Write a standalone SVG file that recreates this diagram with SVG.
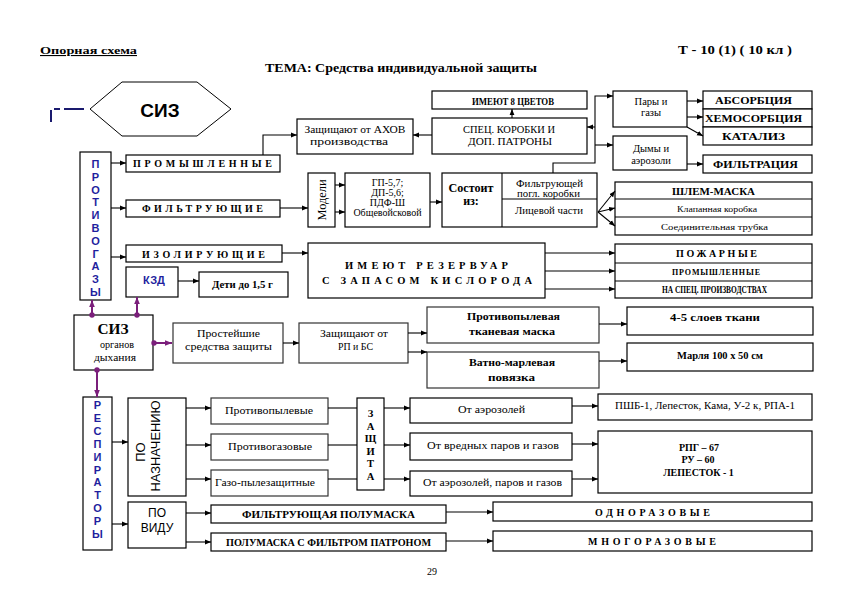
<svg xmlns="http://www.w3.org/2000/svg" width="841" height="595" viewBox="0 0 841 595" font-size="10">
<style>
.t{font-family:"Liberation Serif","Times New Roman",serif;fill:#000;text-anchor:middle}
.b{font-weight:bold}
.s{font-family:"Liberation Sans",Arial,sans-serif}
.blue{fill:#1f1f9e;font-family:"Liberation Sans",Arial,sans-serif;font-weight:bold;font-size:11px;text-anchor:middle}
.box{fill:#fff;stroke:#000;stroke-width:1.2}
.gbox{fill:#fff;stroke:#333;stroke-width:1.2}
.ln{fill:none;stroke:#000;stroke-width:1.1}
.c path{fill:none;stroke:#000;stroke-width:1.1}
.c path.p{stroke:#7b1f7b;stroke-width:2}
.c path.n{stroke:#1a1a6e;stroke-width:2}
</style>
<defs>
<marker id="ar" viewBox="0 0 10 10" refX="10" refY="5" markerWidth="6" markerHeight="6" orient="auto" markerUnits="userSpaceOnUse"><path d="M0,1 L10,5 L0,9 z" fill="#000"/></marker>
<marker id="arp" viewBox="0 0 10 10" refX="10" refY="5" markerWidth="7" markerHeight="7" orient="auto" markerUnits="userSpaceOnUse"><path d="M0,1 L10,5 L0,9 z" fill="#7b1f7b"/></marker>
<marker id="dot" viewBox="0 0 10 10" refX="5" refY="5" markerWidth="6" markerHeight="6" markerUnits="userSpaceOnUse"><circle cx="5" cy="5" r="4.5" fill="#7b1f7b"/></marker>
</defs>
<rect width="841" height="595" fill="#fff"/>

<g id="header">
<text class="t b" x="88.5" y="54" font-size="11" textLength="97" lengthAdjust="spacingAndGlyphs" text-decoration="underline">Опорная схема</text>
<text class="t b" x="401" y="72" font-size="13" textLength="272" lengthAdjust="spacingAndGlyphs">ТЕМА:  Средства индивидуальной защиты</text>
<text class="t b" x="735" y="54" font-size="13" textLength="114" lengthAdjust="spacingAndGlyphs">Т - 10 (1) ( 10 кл )</text>
<text class="t" x="432" y="575" font-size="10">29</text>
</g>

<g id="n-siz">
<polygon points="90,109 122,82 197,82 231,109 197,136 122,136" fill="#fff" stroke="#000" stroke-width="1"/>
<text class="t s b" x="160" y="117" font-size="19">СИЗ</text>
</g>

<g id="n-ahov">
<rect class="box" x="297" y="119" width="116" height="35"/>
<text class="t" x="355" y="133" font-size="10.5" textLength="101" lengthAdjust="spacingAndGlyphs">Защищают от АХОВ</text>
<text class="t" x="349" y="145" font-size="10.5" textLength="78" lengthAdjust="spacingAndGlyphs">производства</text>
</g>

<g id="n-8colors">
<rect class="box" x="432" y="91" width="155" height="18"/>
<text class="t b" x="513" y="104.5" font-size="10" textLength="82" lengthAdjust="spacingAndGlyphs">ИМЕЮТ 8 ЦВЕТОВ</text>
</g>

<g id="n-spec">
<rect class="box" x="432" y="118" width="155" height="36"/>
<text class="t" x="509" y="133" font-size="11" textLength="92" lengthAdjust="spacingAndGlyphs">СПЕЦ. КОРОБКИ И</text>
<text class="t" x="510" y="145" font-size="11" textLength="84" lengthAdjust="spacingAndGlyphs">ДОП. ПАТРОНЫ</text>
</g>

<g id="n-pary">
<rect class="box" x="613" y="91" width="74" height="36"/>
<text class="t" x="651" y="105" font-size="10.5">Пары и</text>
<text class="t" x="651" y="116" font-size="10.5">газы</text>
</g>

<g id="n-dymy">
<rect class="box" x="613" y="136" width="74" height="34"/>
<text class="t" x="651" y="152" font-size="10.5">Дымы и</text>
<text class="t" x="651" y="164" font-size="10.5">аэрозоли</text>
</g>

<g id="n-absorb">
<rect class="box" x="703" y="91" width="109" height="18"/>
<text class="t b" x="753.5" y="104" font-size="10.5" textLength="77" lengthAdjust="spacingAndGlyphs">АБСОРБЦИЯ</text>
</g>
<g id="n-chemo">
<rect class="box" x="703" y="109" width="109" height="18"/>
<text class="t b" x="753.5" y="122" font-size="10.5" textLength="97" lengthAdjust="spacingAndGlyphs">ХЕМОСОРБЦИЯ</text>
</g>
<g id="n-kataliz">
<rect class="box" x="703" y="127" width="109" height="18"/>
<text class="t b" x="753.5" y="140" font-size="10.5" textLength="63" lengthAdjust="spacingAndGlyphs">КАТАЛИЗ</text>
</g>
<g id="n-filtr">
<rect class="box" x="703" y="155" width="109" height="18"/>
<text class="t b" x="755.5" y="168" font-size="10.5" textLength="85" lengthAdjust="spacingAndGlyphs">ФИЛЬТРАЦИЯ</text>
</g>

<g id="n-protivogazy">
<rect class="box" x="80" y="152" width="31" height="148"/>
<text class="blue" x="95.5" y="168">П</text>
<text class="blue" x="95.5" y="180.8">Р</text>
<text class="blue" x="95.5" y="193.6">О</text>
<text class="blue" x="95.5" y="206.4">Т</text>
<text class="blue" x="95.5" y="219.2">И</text>
<text class="blue" x="95.5" y="232">В</text>
<text class="blue" x="95.5" y="244.8">О</text>
<text class="blue" x="95.5" y="257.6">Г</text>
<text class="blue" x="95.5" y="270.4">А</text>
<text class="blue" x="95.5" y="283.2">З</text>
<text class="blue" x="95.5" y="296">Ы</text>
</g>

<g id="n-prom">
<rect class="box" x="126" y="155" width="154" height="17"/>
<text class="t b" x="202.5" y="167" font-size="10" textLength="139" lengthAdjust="spacing">ПРОМЫШЛЕННЫЕ</text>
</g>
<g id="n-filtruyuschie">
<rect class="box" x="126" y="200" width="154" height="17"/>
<text class="t b" x="202.5" y="212" font-size="10" textLength="121" lengthAdjust="spacing">ФИЛЬТРУЮЩИЕ</text>
</g>
<g id="n-izol">
<rect class="box" x="126" y="245" width="156" height="17"/>
<text class="t b" x="203.5" y="258" font-size="10" textLength="123" lengthAdjust="spacing">ИЗОЛИРУЮЩИЕ</text>
</g>
<g id="n-kzd">
<rect class="box" x="126" y="267" width="52" height="30"/>
<text class="blue" x="154" y="284">КЗД</text>
</g>
<g id="n-deti">
<rect class="box" x="199" y="272" width="89" height="25"/>
<text class="t b" x="242.5" y="288" font-size="10" textLength="61" lengthAdjust="spacingAndGlyphs">Дети до 1,5 г</text>
</g>

<g id="n-modeli">
<rect class="box" x="308" y="173" width="27" height="54"/>
<text class="t" transform="translate(326,200) rotate(-90)" font-size="11.5" textLength="41" lengthAdjust="spacingAndGlyphs">Модели</text>
</g>
<g id="n-gp">
<rect class="box" x="345" y="173" width="85" height="54"/>
<text class="t" x="387.5" y="186" font-size="10">ГП-5,7;</text>
<text class="t" x="387.5" y="196" font-size="10">ДП-5,6;</text>
<text class="t" x="387.5" y="206" font-size="10">ПДФ-Ш</text>
<text class="t" x="387.5" y="216" font-size="10">Общевойсковой</text>
</g>
<g id="n-sostoit">
<rect class="box" x="442" y="173" width="155" height="54"/>
<path class="ln" d="M502,173 V227 M502,199 H597"/>
<text class="t b" x="471" y="192" font-size="12" textLength="45" lengthAdjust="spacingAndGlyphs">Состоит</text>
<text class="t b" x="471" y="205" font-size="12">из:</text>
<text class="t" x="549.5" y="187" font-size="10" textLength="67" lengthAdjust="spacingAndGlyphs">Фильтрующей</text>
<text class="t" x="548.5" y="197" font-size="10" textLength="63" lengthAdjust="spacingAndGlyphs">погл. коробки</text>
<text class="t" x="549" y="214" font-size="10" textLength="68" lengthAdjust="spacingAndGlyphs">Лицевой части</text>
</g>

<g id="n-rezervuar">
<rect class="box" x="308" y="243" width="237" height="55"/>
<text class="t b" x="426.5" y="269" font-size="10.5" textLength="163" lengthAdjust="spacing">ИМЕЮТ  РЕЗЕРВУАР</text>
<text class="t b" x="427" y="284" font-size="10.5" textLength="210" lengthAdjust="spacing">С  ЗАПАСОМ  КИСЛОРОДА</text>
</g>

<g id="n-shlem">
<rect class="box" x="615" y="182" width="197" height="53"/>
<path class="ln" d="M615,199 H812 M615,217 H812"/>
<text class="t b" x="713.5" y="195" font-size="10.5" textLength="83" lengthAdjust="spacingAndGlyphs">ШЛЕМ-МАСКА</text>
<text class="t" x="717" y="212" font-size="9" textLength="80" lengthAdjust="spacingAndGlyphs">Клапанная коробка</text>
<text class="t" x="714.5" y="230" font-size="9" textLength="107" lengthAdjust="spacingAndGlyphs">Соединительная трубка</text>
</g>

<g id="n-pozh">
<rect class="box" x="615" y="244" width="197" height="54"/>
<path class="ln" d="M615,263 H812 M615,281 H812"/>
<text class="t b" x="716.5" y="257" font-size="10" textLength="81" lengthAdjust="spacing">ПОЖАРНЫЕ</text>
<text class="t b" x="716" y="275" font-size="8" textLength="88" lengthAdjust="spacing">ПРОМЫШЛЕННЫЕ</text>
<text class="t b" x="714.5" y="293" font-size="10" textLength="105" lengthAdjust="spacingAndGlyphs">НА  СПЕЦ. ПРОИЗВОДСТВАХ</text>
</g>

<g id="n-siz-od">
<rect class="box" x="74" y="315" width="79" height="55"/>
<text class="t b" x="113" y="334" font-size="15" textLength="31" lengthAdjust="spacingAndGlyphs">СИЗ</text>
<text class="t" x="117" y="348" font-size="11" textLength="34" lengthAdjust="spacingAndGlyphs">органов</text>
<text class="t" x="115" y="361" font-size="11" textLength="42" lengthAdjust="spacingAndGlyphs">дыхания</text>
</g>

<g id="n-prosteishie">
<rect class="gbox" x="173" y="323" width="110" height="40"/>
<text class="t" x="228.5" y="337" font-size="11" textLength="63" lengthAdjust="spacingAndGlyphs">Простейшие</text>
<text class="t" x="228.5" y="350" font-size="11" textLength="87" lengthAdjust="spacingAndGlyphs">средства защиты</text>
</g>
<g id="n-rpbs">
<rect class="gbox" x="299" y="323" width="109" height="40"/>
<text class="t" x="354" y="337" font-size="11" textLength="68" lengthAdjust="spacingAndGlyphs">Защищают от</text>
<text class="t" x="355.5" y="350" font-size="11" textLength="35" lengthAdjust="spacingAndGlyphs">РП и БС</text>
</g>
<g id="n-pp-maska">
<rect class="gbox" x="427" y="307" width="172" height="36"/>
<text class="t b" x="513.5" y="320" font-size="11" textLength="93" lengthAdjust="spacingAndGlyphs">Противопылевая</text>
<text class="t b" x="512" y="335" font-size="11" textLength="86" lengthAdjust="spacingAndGlyphs">тканевая маска</text>
</g>
<g id="n-vatno">
<rect class="gbox" x="427" y="352" width="172" height="36"/>
<text class="t b" x="512" y="366" font-size="11" textLength="86" lengthAdjust="spacingAndGlyphs">Ватно-марлевая</text>
<text class="t b" x="511.5" y="381" font-size="11" textLength="47" lengthAdjust="spacingAndGlyphs">повязка</text>
</g>
<g id="n-4-5">
<rect class="box" x="627" y="307" width="186" height="28"/>
<text class="t b" x="715" y="321" font-size="10.5" textLength="90" lengthAdjust="spacingAndGlyphs">4-5 слоев ткани</text>
</g>
<g id="n-marlya">
<rect class="box" x="627" y="343" width="186" height="28"/>
<text class="t b" x="720" y="359" font-size="10.5" textLength="86" lengthAdjust="spacingAndGlyphs">Марля 100 х 50 см</text>
</g>

<g id="n-respiratory">
<rect class="box" x="83" y="397" width="29" height="153"/>
<text class="blue" x="97.5" y="409">Р</text>
<text class="blue" x="97.5" y="421.9">Е</text>
<text class="blue" x="97.5" y="434.8">С</text>
<text class="blue" x="97.5" y="447.7">П</text>
<text class="blue" x="97.5" y="460.6">И</text>
<text class="blue" x="97.5" y="473.5">Р</text>
<text class="blue" x="97.5" y="486.4">А</text>
<text class="blue" x="97.5" y="499.3">Т</text>
<text class="blue" x="97.5" y="512.2">О</text>
<text class="blue" x="97.5" y="525.1">Р</text>
<text class="blue" x="97.5" y="538">Ы</text>
</g>

<g id="n-naznach">
<rect class="box" x="128" y="398" width="58" height="98"/>
<text class="t s" transform="translate(145,452) rotate(-90)" font-size="13">ПО</text>
<text class="t s" transform="translate(160,446) rotate(-90)" font-size="13" textLength="91" lengthAdjust="spacingAndGlyphs">НАЗНАЧЕНИЮ</text>
</g>
<g id="n-vidu">
<rect class="box" x="128" y="502" width="58" height="46"/>
<text class="t s" x="157" y="517" font-size="12">ПО</text>
<text class="t s" x="157" y="532" font-size="12">ВИДУ</text>
</g>

<g id="n-protivopyl">
<rect class="gbox" x="211" y="398" width="117" height="26"/>
<text class="t" x="269" y="414" font-size="10.5" textLength="88" lengthAdjust="spacingAndGlyphs">Противопылевые</text>
</g>
<g id="n-protivogaz">
<rect class="gbox" x="211" y="434" width="117" height="26"/>
<text class="t" x="270" y="450" font-size="10.5" textLength="84" lengthAdjust="spacingAndGlyphs">Противогазовые</text>
</g>
<g id="n-gazopyl">
<rect class="gbox" x="211" y="470" width="117" height="26"/>
<text class="t" x="265" y="486" font-size="10.5" textLength="100" lengthAdjust="spacingAndGlyphs">Газо-пылезащитные</text>
</g>

<g id="n-zaschita">
<rect class="box" x="357" y="398" width="27" height="92"/>
<text class="t b" x="370.5" y="417" font-size="10.5">З</text>
<text class="t b" x="370.5" y="429.5" font-size="10.5">А</text>
<text class="t b" x="370.5" y="442" font-size="10.5">Щ</text>
<text class="t b" x="370.5" y="454.5" font-size="10.5">И</text>
<text class="t b" x="370.5" y="467" font-size="10.5">Т</text>
<text class="t b" x="370.5" y="479.5" font-size="10.5">А</text>
</g>

<g id="n-ot-aer">
<rect class="box" x="410" y="398" width="162" height="25"/>
<text class="t" x="491.5" y="413" font-size="10.5" textLength="67" lengthAdjust="spacingAndGlyphs">От аэрозолей</text>
</g>
<g id="n-ot-vred">
<rect class="box" x="410" y="433" width="162" height="27"/>
<text class="t" x="493" y="449" font-size="10.5" textLength="132" lengthAdjust="spacingAndGlyphs">От вредных паров и газов</text>
</g>
<g id="n-ot-all">
<rect class="box" x="410" y="471" width="162" height="25"/>
<text class="t" x="492.5" y="486" font-size="10.5" textLength="139" lengthAdjust="spacingAndGlyphs">От аэрозолей, паров и газов</text>
</g>

<g id="n-pshb">
<rect class="box" x="598" y="394" width="214" height="26"/>
<text class="t" x="705" y="409" font-size="10" textLength="180" lengthAdjust="spacingAndGlyphs">ПШБ-1, Лепесток, Кама, У-2 к, РПА-1</text>
</g>
<g id="n-rpg">
<rect class="box" x="598" y="431" width="214" height="62"/>
<text class="t b" x="699" y="451" font-size="10">РПГ – 67</text>
<text class="t b" x="698" y="463" font-size="10">РУ – 60</text>
<text class="t b" x="698.5" y="476" font-size="10">ЛЕПЕСТОК - 1</text>
</g>

<g id="n-filt-polu">
<rect class="box" x="211" y="505" width="235" height="18"/>
<text class="t b" x="328.5" y="518" font-size="10" textLength="173" lengthAdjust="spacingAndGlyphs">ФИЛЬТРУЮЩАЯ ПОЛУМАСКА</text>
</g>
<g id="n-polu-patr">
<rect class="box" x="211" y="533" width="235" height="18"/>
<text class="t b" x="328.5" y="546" font-size="10" textLength="205" lengthAdjust="spacingAndGlyphs">ПОЛУМАСКА С ФИЛЬТРОМ ПАТРОНОМ</text>
</g>
<g id="n-odnoraz">
<rect class="box" x="493" y="502" width="319" height="19"/>
<text class="t b" x="652.5" y="516" font-size="10" textLength="115" lengthAdjust="spacing">ОДНОРАЗОВЫЕ</text>
</g>
<g id="n-mnogoraz">
<rect class="box" x="493" y="531" width="319" height="20"/>
<text class="t b" x="652" y="545" font-size="10" textLength="128" lengthAdjust="spacing">МНОГОРАЗОВЫЕ</text>
</g>

<g id="connectors" class="c">
<path class="n" d="M51,122 V109 H90" stroke-dasharray="12,4,6,4,20"/>
<path d="M263,155 V135 H297" marker-end="url(#ar)"/>
<path d="M432,135 H413" marker-end="url(#ar)"/>
<path d="M512,118 V109" marker-end="url(#ar)"/>
<path d="M553,173 V163 H595 V96 H613" marker-end="url(#ar)"/>
<path d="M595,127 H587" marker-end="url(#ar)"/>
<path d="M595,145 H613" marker-end="url(#ar)"/>
<path d="M687,101 H703" marker-end="url(#ar)"/>
<path d="M687,117 H703" marker-end="url(#ar)"/>
<path d="M687,127 L703,136" marker-end="url(#ar)"/>
<path d="M687,164 H703" marker-end="url(#ar)"/>
<path d="M111,163 H126" marker-end="url(#ar)"/>
<path d="M111,208 H126" marker-end="url(#ar)"/>
<path d="M111,257 H126" marker-end="url(#ar)"/>
<path d="M178,281 H199" marker-end="url(#ar)"/>
<path d="M280,208 H308" marker-end="url(#ar)"/>
<path d="M335,185 H345" marker-end="url(#ar)"/>
<path d="M335,212 H345" marker-end="url(#ar)"/>
<path d="M430,202 H442" marker-end="url(#ar)"/>
<path d="M598,212 L615,191" marker-end="url(#ar)"/>
<path d="M598,212 L615,208" marker-end="url(#ar)"/>
<path d="M598,212 L615,226" marker-end="url(#ar)"/>
<path d="M282,253 H308" marker-end="url(#ar)"/>
<path d="M545,253 H615" marker-end="url(#ar)"/>
<path d="M545,271 H615" marker-end="url(#ar)"/>
<path d="M545,289 H615" marker-end="url(#ar)"/>
<path class="p" d="M92,315 V300" marker-start="url(#dot)" marker-end="url(#arp)"/>
<path class="p" d="M137,315 V297" marker-start="url(#dot)" marker-end="url(#arp)"/>
<path class="p" d="M154,343 H172" marker-start="url(#dot)" marker-end="url(#arp)"/>
<path class="p" d="M97,370 V397" marker-start="url(#dot)" marker-end="url(#arp)"/>
<path d="M283,343 H299" marker-end="url(#ar)"/>
<path d="M408,333 H427" marker-end="url(#ar)"/>
<path d="M408,352 H427" marker-end="url(#ar)"/>
<path d="M599,324 H627" marker-end="url(#ar)"/>
<path d="M599,361 H627" marker-end="url(#ar)"/>
<path d="M112,442 H128" marker-end="url(#ar)"/>
<path d="M112,524 H128" marker-end="url(#ar)"/>
<path d="M186,408 H211" marker-end="url(#ar)"/>
<path d="M186,445 H211" marker-end="url(#ar)"/>
<path d="M186,479 H211" marker-end="url(#ar)"/>
<path d="M328,408 H357"/>
<path d="M328,445 H357"/>
<path d="M328,479 H357"/>
<path d="M384,408 H410" marker-end="url(#ar)"/>
<path d="M384,445 H410" marker-end="url(#ar)"/>
<path d="M384,479 H410" marker-end="url(#ar)"/>
<path d="M572,406 H598" marker-end="url(#ar)"/>
<path d="M572,444 H598" marker-end="url(#ar)"/>
<path d="M572,479 H598" marker-end="url(#ar)"/>
<path d="M186,513 H211" marker-end="url(#ar)"/>
<path d="M186,542 H211" marker-end="url(#ar)"/>
<path d="M446,512 H493" marker-end="url(#ar)"/>
<path d="M446,541 H493" marker-end="url(#ar)"/>
</g>
</svg>
